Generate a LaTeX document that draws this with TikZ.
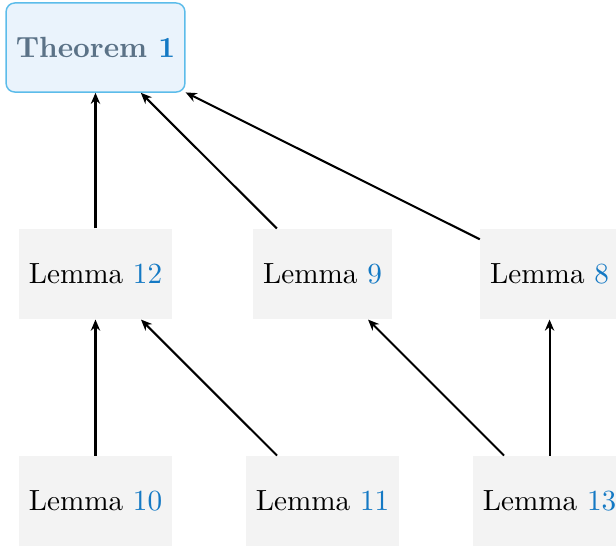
\documentclass[tikz,border=0pt]{standalone}
\usetikzlibrary{arrows.meta}
\definecolor{lemmafill}{HTML}{F3F3F3}
\definecolor{thmfill}{HTML}{EAF3FC}
\definecolor{thmdraw}{HTML}{5CBCEA}
\definecolor{thmtext}{HTML}{5B7287}
\definecolor{refblue}{HTML}{1479C4}
\tikzset{
  lemmabox/.style={fill=lemmafill, draw=none, minimum height=30.8pt, inner xsep=3.333pt},
  thmbox/.style={fill=thmfill, draw=thmdraw, line width=0.5pt, rounded corners=3pt,
    minimum height=30.5pt, inner xsep=3.333pt, font=\bfseries, text=thmtext},
  dep/.style={-{Stealth[length=3.8pt,width=3.2pt]}, line width=0.7pt, black},
}
\newcommand{\lemref}[1]{Lemma \textcolor{refblue}{#1}}
\begin{document}
\begin{tikzpicture}
\useasboundingbox (0pt,0pt) rectangle (210.96pt,-187pt);
% top row
\node[thmbox] (t1) at (32.7pt,-16.27pt) {Theorem \textcolor{refblue}{1}};
% middle row
\node[lemmabox] (l12) at (32.7pt,-93.84pt) {\lemref{12}};
\node[lemmabox] (l9)  at (110.45pt,-93.84pt) {\lemref{9}};
\node[lemmabox] (l8)  at (188.2pt,-93.84pt) {\lemref{8}};
% bottom row
\node[lemmabox] (l10) at (32.7pt,-171.6pt) {\lemref{10}};
\node[lemmabox] (l11) at (110.45pt,-171.6pt) {\lemref{11}};
\node[lemmabox] (l13) at (188.2pt,-171.6pt) {\lemref{13}};
% dependencies
\draw[dep] (l12) -- (t1);
\draw[dep] (l9) -- (t1);
\draw[dep] (l8) -- (t1);
\draw[dep] (l10) -- (l12);
\draw[dep] (l11) -- (l12);
\draw[dep] (l13) -- (l9);
\draw[dep] (l13) -- (l8);
\end{tikzpicture}
\end{document}
